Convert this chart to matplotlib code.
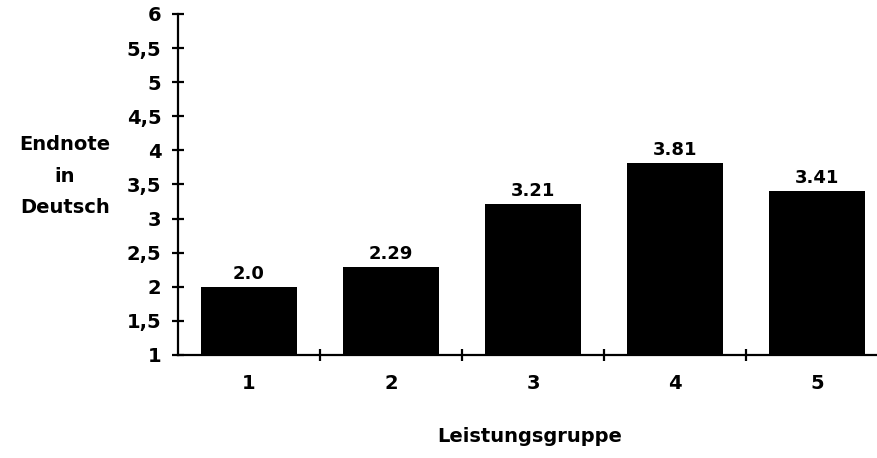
import matplotlib.pyplot as plt
from matplotlib.ticker import FixedLocator, FuncFormatter

groups = ["1", "2", "3", "4", "5"]
grades = [2.0, 2.29, 3.21, 3.81, 3.41]
grade_labels = ["2.0", "2.29", "3.21", "3.81", "3.41"]
yticks = [1, 1.5, 2, 2.5, 3, 3.5, 4, 4.5, 5, 5.5, 6]

plt.rcParams['font.family'] = ['DejaVu Sans']
plt.rcParams['font.weight'] = 'bold'

fig = plt.figure(figsize=(8.78, 4.58), dpi=100)
# axis runs past the right edge like the scan
ax = fig.add_axes([178 / 878, 1 - 355 / 458, 710 / 878, 341 / 458])

x = range(len(groups))
ax.bar(x, [g - 1 for g in grades], bottom=1, width=0.68, color='black')
for i, (g, lab) in enumerate(zip(grades, grade_labels)):
    ax.text(i, g + 0.06, lab, ha='center', va='bottom', fontsize=13, fontweight='bold')

ax.set_xlim(-0.5, 4.5)
ax.set_ylim(1, 6)
ax.spines['top'].set_visible(False)
ax.spines['right'].set_visible(False)
ax.spines['left'].set_linewidth(1.6)
ax.spines['bottom'].set_linewidth(1.6)

ax.yaxis.set_major_locator(FixedLocator(yticks))
ax.yaxis.set_major_formatter(FuncFormatter(lambda v, p: ('%g' % v).replace('.', ',')))
ax.tick_params(axis='y', direction='inout', length=8, width=1.6, pad=8, labelsize=14)

# ticks between categories, labels at centres
ax.xaxis.set_major_locator(FixedLocator([0.5, 1.5, 2.5, 3.5]))
ax.xaxis.set_major_formatter(FuncFormatter(lambda v, p: ''))
ax.xaxis.set_minor_locator(FixedLocator(list(x)))
ax.set_xticklabels(groups, minor=True)
ax.tick_params(axis='x', which='major', direction='inout', length=8, width=1.6)
ax.tick_params(axis='x', which='minor', length=0, pad=14, labelsize=14)
for t in ax.get_yticklabels() + ax.get_xticklabels(minor=True):
    t.set_fontweight('bold')

fig.text(65 / 878, 1 - 176 / 458, "Endnote\nin\nDeutsch", ha='center', va='center',
         fontsize=14, fontweight='bold', linespacing=1.85)
fig.text(530 / 878, 1 - 437 / 458, "Leistungsgruppe", ha='center', va='center',
         fontsize=14, fontweight='bold')

fig.savefig("out.png", dpi=100)
